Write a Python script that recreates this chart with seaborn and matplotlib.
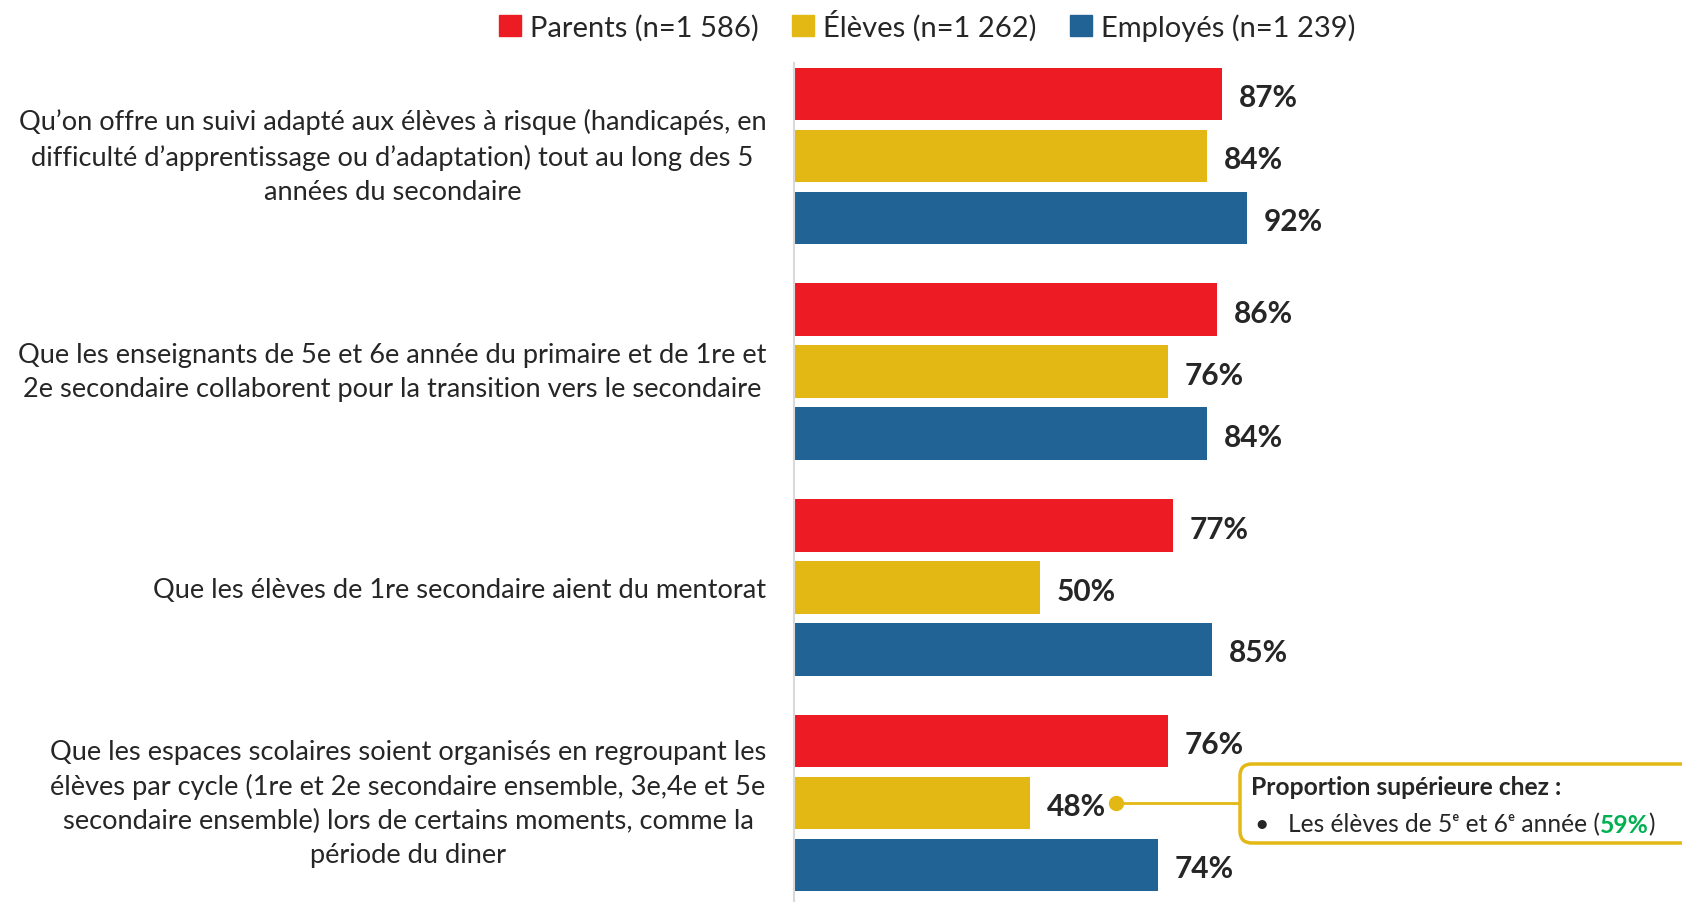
import numpy as np
import pandas as pd
import matplotlib
matplotlib.use('Agg')
import matplotlib.pyplot as plt
import seaborn as sns
from matplotlib.patches import Patch, FancyBboxPatch
from matplotlib.offsetbox import TextArea, HPacker, AnnotationBbox

# Données
categories = [
    "Qu’on offre un suivi adapté aux élèves à risque (handicapés, en\n"
    "difficulté d’apprentissage ou d’adaptation) tout au long des 5\n"
    "années du secondaire",
    "Que les enseignants de 5e et 6e année du primaire et de 1re et\n"
    "2e secondaire collaborent pour la transition vers le secondaire",
    "Que les élèves de 1re secondaire aient du mentorat",
    "Que les espaces scolaires soient organisés en regroupant les\n"
    "élèves par cycle (1re et 2e secondaire ensemble, 3e,4e et 5e\n"
    "secondaire ensemble) lors de certains moments, comme la\n"
    "période du diner",
]
groupes = ["Parents (n=1 586)", "Élèves (n=1 262)", "Employés (n=1 239)"]
parents = [87, 86, 77, 76]
eleves = [84, 76, 50, 48]
employes = [92, 84, 85, 74]
couleurs = ["#ED1C24", "#E4B814", "#206394"]

note_titre = "Proportion supérieure chez :"
note_texte = "Les élèves de 5ᵉ et 6ᵉ année ("
note_valeur = "59%"

sns.set_style("white")
plt.rcParams["font.family"] = ["Lato", "DejaVu Sans"]

df = pd.DataFrame({
    "categorie": categories * 3,
    "groupe": np.repeat(groupes, len(categories)),
    "valeur": parents + eleves + employes,
})

fig = plt.figure(figsize=(16.83, 9.03), dpi=100)
ax = fig.add_axes([794 / 1683, 0, 492 / 1683, 1 - 64 / 903])

sns.barplot(data=df, y="categorie", x="valeur", hue="groupe", hue_order=groupes,
            palette=couleurs, orient="h", width=0.861, gap=0.15, saturation=1,
            linewidth=0, legend=False, ax=ax)

ax.set_xlim(0, 100)
ax.set_ylim(3.459, -0.431)
ax.set_xlabel("")
ax.set_ylabel("")
ax.set_xticks([])
for s in ["top", "right", "bottom"]:
    ax.spines[s].set_visible(False)
ax.spines["left"].set_color("#D9D9D9")
ax.spines["left"].set_linewidth(1.5)
ax.tick_params(axis="y", length=0, pad=20, labelsize=19.6)
for lbl in ax.get_yticklabels():
    lbl.set_multialignment("center")
    lbl.set_linespacing(1.45)
    if "\n" in lbl.get_text():
        lbl.set_verticalalignment("center")

for cont in ax.containers:
    etiquettes = ax.bar_label(cont, fmt="%d%%", padding=12, fontsize=21.5, fontweight="bold")
    for t in etiquettes:
        t.xyann = (12, -2.3)

# Légende
poignees = [Patch(color=c) for c in couleurs]
fig.legend(poignees, groupes, loc="center", bbox_to_anchor=(0.551, 0.971), ncol=3,
           frameon=False, fontsize=21, handlelength=0.75, handleheight=0.75,
           handletextpad=0.3, columnspacing=1.15)

# Encadré de note
or_ = "#E4B814"
x_point = eleves[3] + 17.5
ax.plot([x_point, 90.7], [3, 3], color=or_, lw=2, clip_on=False)
ax.plot([x_point], [3], "o", ms=10, color=or_, clip_on=False)

boite = FancyBboxPatch((12.40, 0.59), 4.6, 0.79,
                       boxstyle="round,pad=0,rounding_size=0.12",
                       transform=fig.dpi_scale_trans, fc="white", ec=or_, lw=2.5)
fig.add_artist(boite)
fig.text(1251 / 1683, 1 - 788 / 903, note_titre, fontsize=17.7, fontweight="bold",
         va="center", ha="left")
fig.text(1254 / 1683, 1 - 825 / 903, "•", fontsize=17.7, va="center", ha="left")
ligne = HPacker(children=[
    TextArea(note_texte, textprops=dict(fontsize=17.7)),
    TextArea(note_valeur, textprops=dict(fontsize=17.7, fontweight="bold", color="#00B050")),
    TextArea(")", textprops=dict(fontsize=17.7)),
], align="baseline", pad=0, sep=0)
ab = AnnotationBbox(ligne, (1288 / 1683, 1 - 825 / 903), xycoords="figure fraction",
                    box_alignment=(0, 0.5), frameon=False, pad=0)
fig.add_artist(ab)

fig.savefig("out.png", dpi=100)
